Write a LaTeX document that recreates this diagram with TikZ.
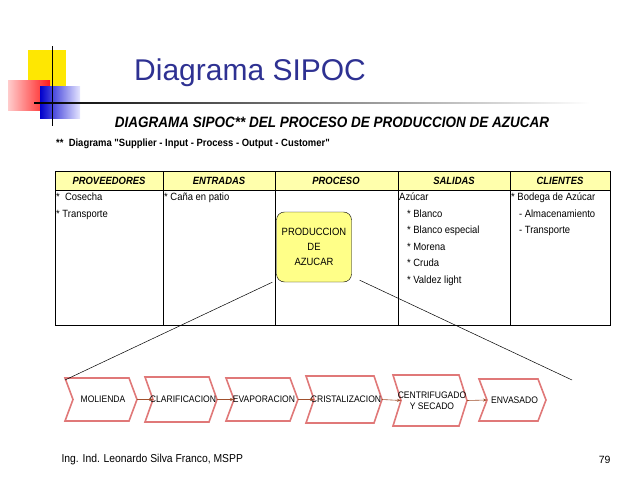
\documentclass[tikz,border=0pt]{standalone}
\usepackage{fontspec}
\setmainfont{Liberation Sans}
\newfontfamily\narrowfont[FakeStretch=0.9]{Liberation Sans}
\usetikzlibrary{positioning,arrows.meta,shadings}
\definecolor{titblue}{HTML}{2E3192}
\definecolor{chevred}{HTML}{E07878}
\definecolor{arrbrown}{HTML}{A0502D}
\definecolor{procyel}{HTML}{FFFF88}
\tikzset{
  chevline/.style={draw=chevred,line width=1.6pt,line join=miter,fill=white},
  flowarrow/.style={draw=arrbrown,-{Stealth[length=4pt]},line width=0.6pt},
  celltext/.style={font=\narrowfont\fontsize{10.5}{13}\selectfont,anchor=north west,inner sep=1pt,align=left},
  headtext/.style={font=\narrowfont\fontsize{10.5}{12}\selectfont\bfseries\itshape}
}
% chevron: left x, right x, top y, bottom y, name, text
\newcommand{\chevron}[6]{%
  \path[chevline] (#1,#3) -- (#2-8,#3) -- (#2,{(#3+#4)/2}) -- (#2-8,#4) -- (#1,#4) -- (#1+8,{(#3+#4)/2}) -- cycle;
  \coordinate (#5-in) at (#1+8,{(#3+#4)/2});
  \coordinate (#5-tip) at (#2,{(#3+#4)/2});
  \node[font=\narrowfont\fontsize{9.5}{11}\selectfont,align=center] (#5) at ({(#1+#2)/2+2},{(#3+#4)/2}) {#6};}
\begin{document}
\begin{tikzpicture}[x=1pt,y=-1pt]
    \useasboundingbox (0,0) rectangle (638,479);
    % decoration
    \fill[yellow!90!orange] (28,50) rectangle (66,92);
    \shade[left color=red!20,right color=red!90] (8,80) rectangle (50,110);
    \shade[left color=blue!80!black,right color=blue!10] (40,86) rectangle (80,118);
    \draw[line width=1pt] (52,46) -- (52,126);
    \shade[left color=black,right color=white] (34,102.3) rectangle (590,103.7);
    \node[font=\fontsize{30}{34}\selectfont,text=titblue,anchor=west,inner sep=0] (title) at (134,73) {Diagrama SIPOC};
    \node[font=\narrowfont\fontsize{15}{17}\selectfont\bfseries\itshape] (subtitle) at (332,122) {DIAGRAMA SIPOC** DEL PROCESO DE PRODUCCION DE AZUCAR};
    \node[font=\narrowfont\fontsize{10.5}{12}\selectfont\bfseries,anchor=west,inner sep=0] (note) at (56,144) {**~~Diagrama "Supplier - Input - Process - Output - Customer"};
    % table
    \fill[procyel!70] (55,171) rectangle (610,190);
    \draw[line width=0.9pt] (55,171) rectangle (610,325);
    \draw[line width=0.5pt] (55,190) -- (610,190);
    \foreach \cx in {163,275,398,510} \draw[line width=0.5pt] (\cx,171) -- (\cx,325);
    \node[headtext] (hprov) at (109,181) {PROVEEDORES};
    \node[headtext] (hent) at (219,181) {ENTRADAS};
    \node[headtext] (hproc) at (336,181) {PROCESO};
    \node[headtext] (hsal) at (454,181) {SALIDAS};
    \node[headtext] (hcli) at (560,181) {CLIENTES};
    \node[celltext,font=\narrowfont\fontsize{10.5}{16.5}\selectfont] (cprov) at (55,192) {*~~Cosecha\\* Transporte};
    \node[celltext] (cent) at (163,192) {* Caña en patio};
    \node[celltext,font=\narrowfont\fontsize{10.5}{16.5}\selectfont] (csal) at (398,192) {Azúcar\\\ \ \ * Blanco\\\ \ \ * Blanco especial\\\ \ \ * Morena\\\ \ \ * Cruda\\\ \ \ * Valdez light};
    \node[celltext,font=\narrowfont\fontsize{10.5}{16.5}\selectfont] (ccli) at (510,192) {* Bodega de Azúcar\\\ \ \ - Almacenamiento\\\ \ \ - Transporte};
    \node[draw,fill=procyel,rounded corners=8pt,minimum width=75pt,minimum height=70pt,align=center,font=\narrowfont\fontsize{10.5}{15}\selectfont] (proc) at (314,247) {PRODUCCION\\DE\\AZUCAR};
    % flow
    \chevron{65}{137}{378}{421}{mol}{MOLIENDA}
    \chevron{145}{217}{377}{422}{cla}{CLARIFICACION}
    \chevron{226}{298}{378}{421}{eva}{EVAPORACION}
    \chevron{306}{382}{376}{423}{cri}{CRISTALIZACION}
    \chevron{393}{467}{375}{426}{cen}{CENTRIFUGADO\\Y SECADO}
    \chevron{479}{546}{379}{421}{env}{ENVASADO}
    \draw[flowarrow] (mol-tip) -- (cla-in);
    \draw[flowarrow] (cla-tip) -- (eva-in);
    \draw[flowarrow] (eva-tip) -- (cri-in);
    \draw[flowarrow] (cri-tip) -- (cen-in);
    \draw[flowarrow] (cen-tip) -- (env-in);
    \coordinate (zl) at (65,380);
    \coordinate (zr) at (572,380);
    \draw[line width=0.5pt] (proc.south west) ++(-4,0) -- (zl);
    \draw[line width=0.5pt] (proc.south east) ++(8,-2) -- (zr);
    % footer
    \node[font=\narrowfont\fontsize{11.5}{13}\selectfont,anchor=west] (author) at (58,460) {Ing. Ind. Leonardo Silva Franco, MSPP};
    \node[font=\fontsize{10.5}{12}\selectfont,anchor=east] (page) at (614,460) {79};
\end{tikzpicture}
\end{document}
